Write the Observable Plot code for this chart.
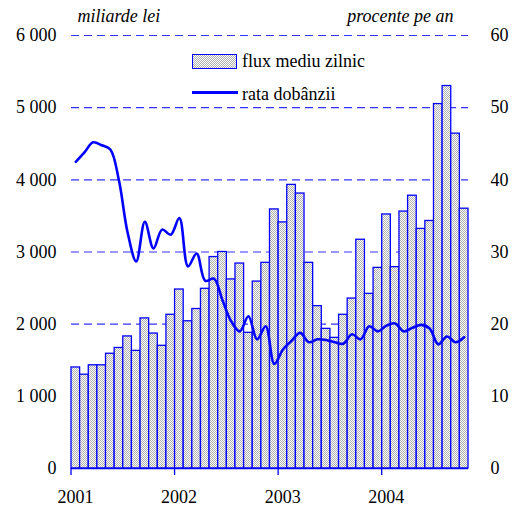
<!DOCTYPE html>
<html>
<head>
<meta charset="utf-8">
<script src="https://cdn.jsdelivr.net/npm/d3@7"></script>
<script src="https://cdn.jsdelivr.net/npm/@observablehq/plot@0.6"></script>
<style>
  body { margin: 0; background: #fff; }
  #wrap { position: relative; width: 512px; height: 507px; font-family: 'Liberation Serif', 'DejaVu Serif', serif; }
  #wrap svg, #wrap svg text { font-family: 'Liberation Serif', 'DejaVu Serif', serif !important; }
  .lg { position: absolute; font-size: 18px; color: #000; white-space: nowrap; line-height: 1; font-family: 'Liberation Serif', 'DejaVu Serif', serif; }
</style>
</head>
<body>
<div id="wrap"></div>
<script>
// Months: Jan 2001 .. Oct 2004 (46 months)
const years = [2001, 2002, 2003, 2004];
const flux = [1400, 1300, 1430, 1430, 1590, 1670, 1830, 1630, 2080, 1870, 1700, 2130,
              2480, 2040, 2210, 2490, 2930, 3000, 2620, 2840, 1880, 2590, 2850, 3590,
              3410, 3930, 3810, 2850, 2250, 1935, 1810, 2130, 2355, 3170, 2420, 2780,
              3520, 2790, 3560, 3780, 3320, 3430, 5050, 5300, 4640, 3600];
const rate = [42.5, 43.8, 45.2, 44.8, 44.2, 39.9, 32.7, 28.7, 34.2, 30.5, 33.1, 32.4,
              34.7, 28.0, 29.8, 26.0, 26.3, 23.3, 20.4, 19.0, 21.1, 17.9, 19.7, 14.5,
              16.5, 17.7, 18.8, 17.5, 17.9, 17.8, 17.5, 17.3, 18.6, 17.9, 19.7, 19.0,
              19.8, 20.1, 19.0, 19.5, 19.9, 19.4, 17.2, 18.3, 17.5, 18.2];
const leftTicks = [0, 1000, 2000, 3000, 4000, 5000, 6000];
const rightTicks = [0, 10, 20, 30, 40, 50, 60];

const data = flux.map((v, i) => ({i, flux: v, rate: rate[i]}));
const blue = "#0000ff";
const ff = "'Liberation Serif', 'DejaVu Serif', serif";
const fmt = d => d === 0 ? "0" : d3.format(",")(d).replace(/,/g, " ");

const plot = Plot.plot({
  width: 512,
  height: 507,
  marginLeft: 71,
  marginRight: 44,
  marginTop: 35,
  marginBottom: 39,
  style: {fontFamily: ff, fontSize: "18px", color: "#000", background: "#fff"},
  x: {domain: [0, 46], axis: null},
  y: {domain: [0, 6000], axis: null},
  marks: [
    Plot.ruleY(leftTicks.filter(d => d > 0), {stroke: "#3333ff", strokeWidth: 1.2, strokeDasharray: "8,5"}),
    Plot.rectY(data, {x1: "i", x2: d => d.i + 1, y: "flux", fill: "url(#dots)", stroke: blue, strokeWidth: 1.3}),
    Plot.line(data, {x: d => d.i + 0.5, y: d => d.rate * 100, stroke: blue, strokeWidth: 2.6, curve: "catmull-rom"}),
    Plot.ruleY([0], {stroke: blue, strokeWidth: 1.5}),
    Plot.text(leftTicks, {x: 0, y: d => d, text: fmt, textAnchor: "end", dx: -15, fill: "#000", fontFamily: ff}),
    Plot.text(rightTicks, {x: 46, y: d => d * 100, text: d => String(d), textAnchor: "start", dx: 22, fill: "#000", fontFamily: ff}),
    Plot.text(years, {x: d => (d - 2001) * 12, y: 0, text: d => String(d), dx: 4, dy: 29, fill: "#000", fontFamily: ff}),
    Plot.text(["miliarde lei"], {frameAnchor: "top-left", dx: 6, dy: -26, fontStyle: "italic", fill: "#000", fontFamily: ff}),
    Plot.text(["procente pe an"], {frameAnchor: "top-right", dx: -15, dy: -26, fontStyle: "italic", fill: "#000", fontFamily: ff})
  ]
});

// pattern for bar fill
const defs = d3.select(plot).insert("defs", ":first-child");
const pat = defs.append("pattern").attr("id", "dots").attr("patternUnits", "userSpaceOnUse")
  .attr("width", 2).attr("height", 2);
pat.append("rect").attr("width", 2).attr("height", 2).attr("fill", "#ffffff");
pat.append("rect").attr("width", 1).attr("height", 1).attr("fill", "#b0b0b0");
pat.append("rect").attr("x", 1).attr("y", 1).attr("width", 1).attr("height", 1).attr("fill", "#b0b0b0");

// year tick marks below axis
const xs = plot.scale("x"), ys = plot.scale("y");
const g = d3.select(plot).append("g").attr("stroke", blue).attr("stroke-width", 1.3);
years.forEach(yr => {
  const px = xs.apply((yr - 2001) * 12);
  g.append("line").attr("x1", px).attr("x2", px).attr("y1", ys.apply(0)).attr("y2", ys.apply(0) + 7);
});

const wrap = document.getElementById("wrap");
wrap.appendChild(plot);

// legend
const lg1box = document.createElement("div");
lg1box.style.cssText = "position:absolute;left:192px;top:54px;width:43px;height:13px;border:1.3px solid " + blue + ";background-image:repeating-conic-gradient(#b0b0b0 0 25%, #fff 0 50%);background-size:2px 2px;";
wrap.appendChild(lg1box);
const lg1 = document.createElement("div");
lg1.className = "lg"; lg1.style.left = "242px"; lg1.style.top = "52px"; lg1.textContent = "flux mediu zilnic";
wrap.appendChild(lg1);
const lg2line = document.createElement("div");
lg2line.style.cssText = "position:absolute;left:192px;top:91px;width:46px;height:2.6px;background:" + blue + ";";
wrap.appendChild(lg2line);
const lg2 = document.createElement("div");
lg2.className = "lg"; lg2.style.left = "242px"; lg2.style.top = "85px"; lg2.textContent = "rata dobânzii";
wrap.appendChild(lg2);
</script>
</body>
</html>
